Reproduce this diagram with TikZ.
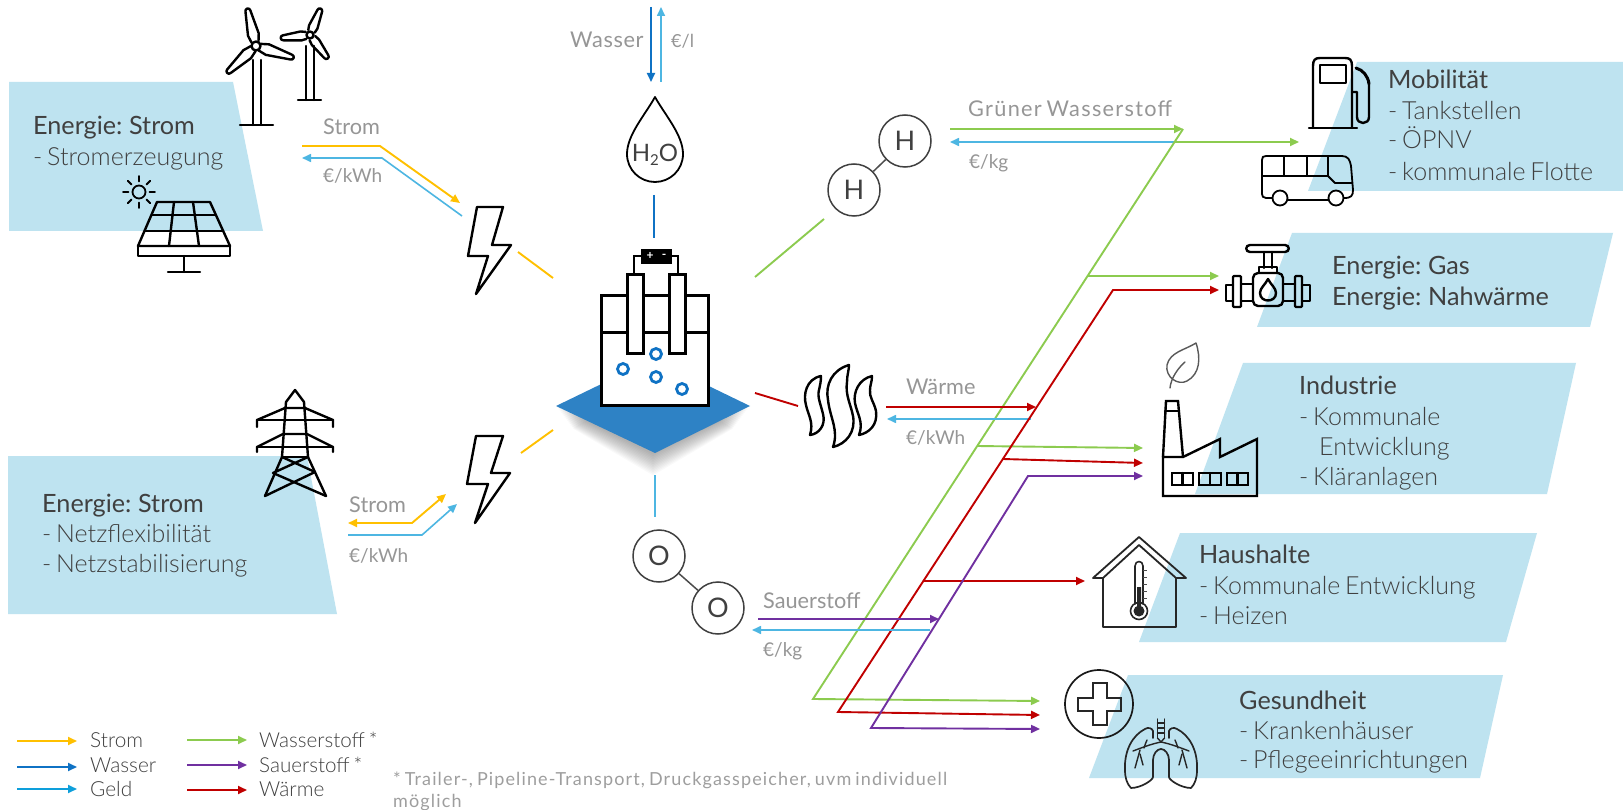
\documentclass[tikz,border=0pt]{standalone}
\usepackage{fontspec}
\setmainfont[WordSpace=0.7]{Lato}
\newfontfamily\lightf[WordSpace=0.7]{Lato Light}
\usetikzlibrary{arrows.meta,calc}
\definecolor{panelc}{HTML}{BEE3F0}
\definecolor{cstrom}{HTML}{FFC000}
\definecolor{cwasser}{HTML}{0F72C4}
\definecolor{cgeld}{HTML}{4DB6E2}
\definecolor{cgeldb}{HTML}{0E9FDB}
\definecolor{cgruen}{HTML}{8CCB4F}
\definecolor{clila}{HTML}{7030A0}
\definecolor{crot}{HTML}{C00000}
\definecolor{ctank}{HTML}{2E82C5}
\definecolor{tdark}{HTML}{404040}
\definecolor{tbody}{HTML}{404040}
\definecolor{tlab}{HTML}{969696}
\newcommand{\tblade}[4]{\draw[icon,shift={(#1)},rotate=#2] (4,-3.5) -- ({#3*0.3},-#4) -- (#3-3,-2.5) arc[start angle=90,end angle=-90,radius=2.5pt] -- ({#3*0.3},#4) -- (4,3.5);}
\tikzset{
  >={Triangle[length=9pt,width=8pt]},
  flow/.style={line width=1.9pt,line join=miter},
  panel/.style={fill=panelc,draw=none},
  icon/.style={draw=black,line width=2.4pt,line join=round,line cap=round},
  thinicon/.style={draw=black!85,line width=1.5pt,line join=round,line cap=round},
  head/.style={anchor=base west,inner sep=0pt,font=\fontsize{25.2}{28}\selectfont,text=tdark},
  body/.style={anchor=base west,inner sep=0pt,font=\lightf\fontsize{25}{28}\selectfont,text=tbody},
  lab/.style={anchor=base west,inner sep=0pt,font=\fontsize{21.7}{24}\selectfont,text=tlab},
  labe/.style={anchor=base west,inner sep=0pt,font=\fontsize{19}{24}\selectfont,text=tlab},
  leg/.style={anchor=base west,inner sep=0pt,font=\lightf\fontsize{20.8}{24}\selectfont,text=tbody},
  legs/.style={anchor=base west,inner sep=0pt,font=\lightf\fontsize{20.6}{24}\selectfont,text=tbody},
  foot/.style={anchor=base west,inner sep=0pt,font=\addfontfeatures{LetterSpace=6.3}\fontsize{18}{20}\selectfont,text=black!38},
  atom/.style={circle,draw=black!75,line width=1.5pt,minimum size=52pt,inner sep=0pt,fill=white,font=\fontsize{27}{30}\selectfont,text=black!75},
}
\begin{document}
\begin{tikzpicture}[x=1pt,y=-1pt]
\useasboundingbox (0,0) rectangle (1623,810);
\fill[white] (0,0) rectangle (1623,810);
% panels
\fill[panel] (9,82) -- (233,82) -- (263,231) -- (9,231) -- cycle;
\fill[panel] (8,456) -- (307,456) -- (337,614) -- (8,614) -- cycle;
\fill[panel] (1357,62) -- (1623,62) -- (1623,191) -- (1308,191) -- cycle;
\fill[panel] (1292,233) -- (1613,233) -- (1590,327) -- (1257,327) -- cycle;
\fill[panel] (1243,363) -- (1576,363) -- (1547,494) -- (1195,494) -- cycle;
\fill[panel] (1180,533) -- (1537,533) -- (1506,642) -- (1139,642) -- cycle;
\fill[panel] (1128,675) -- (1503,675) -- (1480,778) -- (1089,778) -- cycle;
% panel text
\node[head] (t1a) at (33,135) {Energie: Strom};
\node[body] (t1b) at (33,166) {- Stromerzeugung};
\node[head] (t2a) at (42,512) {Energie: Strom};
\node[body] (t2b) at (42,542) {- Netzflexibilität};
\node[body] (t2c) at (42,572) {- Netzstabilisierung};
\node[head] (t3a) at (1388,89) {Mobilität};
\node[body] (t3b) at (1388,120) {- Tankstellen};
\node[body] (t3c) at (1388,149) {- ÖPNV};
\node[body] (t3d) at (1388,181) {- kommunale Flotte};
\node[head] (t4a) at (1332,275) {Energie: Gas};
\node[head] (t4b) at (1332,306) {Energie: Nahwärme};
\node[head] (t5a) at (1299,394) {Industrie};
\node[body] (t5b) at (1299,425) {- Kommunale};
\node[body] (t5c) at (1319,455) {Entwicklung};
\node[body] (t5d) at (1299,485) {- Kläranlagen};
\node[head] (t6a) at (1199,563) {Haushalte};
\node[body] (t6b) at (1199,594) {- Kommunale Entwicklung};
\node[body] (t6c) at (1199,624) {- Heizen};
\node[head] (t7a) at (1239,709) {Gesundheit};
\node[body] (t7b) at (1239,739) {- Krankenhäuser};
\node[body] (t7c) at (1239,768) {- Pflegeeinrichtungen};
% wind turbines
\tblade{256,46}{103}{39}{5.5}
\tblade{256,46}{-17.5}{40}{5.5}
\tblade{256,46}{223}{40}{5.5}
\draw[icon,fill=white] (256,46) circle[radius=4.5pt];
\draw[icon] (253,60) -- (253,125) (261,60) -- (261,125) (240,125) -- (273,125);
\tblade{310,35}{68}{29}{4.5}
\tblade{310,35}{186}{30}{4.5}
\tblade{310,35}{-53}{30}{4.5}
\draw[icon,fill=white] (310,35) circle[radius=3.5pt];
\draw[icon] (306,46) -- (306,100) (314,46) -- (314,100) (298,100) -- (321,100);
% sun
\draw[icon,line width=1.8pt] (139,192) circle[radius=6.5pt];
\foreach \a in {0,45,...,315}{\draw[icon,line width=1.8pt] ($(139,192)+(\a:10.5pt)$) -- ($(139,192)+(\a:16pt)$);}
% solar panel
\draw[icon] (157,202) -- (210,202) -- (230,246) -- (138,246) -- cycle;
\draw[icon] (138,246) rectangle (230,256);
\draw[icon] (152,215) -- (215,215) (145,231) -- (223,231);
\draw[icon] (174,202) -- (169,246) (193,202) -- (199,246);
\draw[icon] (184,256) -- (184,272) (168,272) -- (200,272);
% pylon
\draw[icon] (265,496) -- (282,457) -- (286,402) -- (295,390) -- (304,402) -- (308,457) -- (326,496);
\draw[icon] (257,427) -- (257,420) -- (285,408) -- (305,408) -- (333,420) -- (333,427);
\draw[icon] (257,420) -- (333,420);
\draw[icon] (257,452) -- (257,447) -- (283,434) -- (307,434) -- (333,447) -- (333,452);
\draw[icon] (257,447) -- (333,447);
\draw[icon] (282,457) -- (308,457);
\draw[icon] (282,457) -- (315,472) -- (265,496);
\draw[icon] (308,457) -- (273,473) -- (326,496);
% lightning bolts
\draw[icon] (477,207) -- (503,207) -- (492,245) -- (511,245) -- (476,294) -- (488,256) -- (468,256) -- cycle;
\draw[icon] (476,436) -- (503,436) -- (491,473) -- (510,473) -- (475,523) -- (488,484) -- (467,484) -- cycle;
% electrolyser shadow and base
\foreach \i in {1,...,14}{\fill[black,opacity=0.025] ({556+1.2*\i},{406+1.6*\i}) -- (653,{358+1.6*\i}) -- ({750-1.2*\i},{406+1.6*\i}) -- (653,{453+1.6*\i}) -- cycle;}
\fill[ctank] (556,406) -- (653,359) -- (750,406) -- (655,453) -- cycle;
\draw[icon,line width=3pt,line cap=butt,line join=miter,fill=white] (601,296) rectangle (708,405);
\draw[icon,line width=3pt,line cap=butt] (601,333) -- (708,333);
\draw[icon,line width=2.6pt,line cap=butt,line join=miter] (634,275) -- (634,256) -- (641,256) (678,275) -- (678,256) -- (672,256);
\draw[icon,line width=3pt,line cap=butt,line join=miter,fill=white] (627,275) rectangle (643,354);
\draw[icon,line width=3pt,line cap=butt,line join=miter,fill=white] (669,275) rectangle (685,354);
\fill[black] (641,249) rectangle (672,264);
\node[inner sep=0pt,text=white,font=\bfseries\fontsize{12}{12}\selectfont] (bp) at (650,256) {+};
\node[inner sep=0pt,text=white,font=\bfseries\fontsize{12}{12}\selectfont] (bm) at (664,256) {-};
\foreach \p in {{656,354},{623,369},{656,377},{682,389}}{\draw[draw=cwasser,line width=2.8pt,fill=white] (\p) circle[radius=5.5pt];}
% drop
\draw[icon,line width=1.8pt] (655,97) .. controls (645,115) and (627,135) .. (627,154) .. controls (627,170) and (640,182) .. (655,182) .. controls (670,182) and (683,170) .. (683,154) .. controls (683,135) and (665,115) .. cycle;
\node[inner sep=0pt,text=black!75,font=\fontsize{24}{26}\selectfont] (h2o) at (655,155) {H\raisebox{-4pt}{\fontsize{15}{15}\selectfont 2}O};
% atoms
\node[atom] (h1) at (854,190) {H};
\node[atom] (h2) at (905,141) {H};
\draw[black!70,line width=1.5pt] (h1) -- (h2);
\node[atom] (o1) at (659,556) {O};
\node[atom] (o2) at (718,608) {O};
\draw[black!70,line width=1.5pt] (o1) -- (o2);
% heat
\draw[icon,line width=2.4pt] (821,376) .. controls (806,379) and (803,395) .. (806,405) .. controls (808,415) and (814,422) .. (810,435) .. controls (819,434) and (826,425) .. (823,414) .. controls (821,405) and (817,397) .. (819,390) .. controls (820,385) and (821,382) .. (821,376) -- cycle;
\draw[icon,line width=2.4pt] (849,365) .. controls (832,370) and (825,385) .. (828,400) .. controls (830,418) and (839,430) .. (833,447) .. controls (846,444) and (856,432) .. (853,416) .. controls (851,405) and (845,395) .. (847,382) .. controls (847,375) and (849,370) .. (849,365) -- cycle;
\draw[icon,line width=2.4pt] (872,376) .. controls (859,379) and (853,392) .. (855,403) .. controls (857,414) and (864,422) .. (859,435) .. controls (869,433) and (878,425) .. (876,411) .. controls (874,402) and (869,397) .. (870,390) .. controls (870,385) and (872,382) .. (872,376) -- cycle;
% named connector ends
\coordinate (sA1) at (302,146); \coordinate (sA2) at (380,146); \coordinate (sA3) at (460,203);
\coordinate (gA1) at (462,216); \coordinate (gA2) at (382,158); \coordinate (gA3) at (302,158);
\coordinate (sB1) at (348,523); \coordinate (sB2) at (412,523); \coordinate (sB3) at (446,494);
\coordinate (gB1) at (348,535); \coordinate (gB2) at (422,535); \coordinate (gB3) at (457,504);
\coordinate (cS1a) at (518,252); \coordinate (cS1b) at (553,278);
\coordinate (cS2a) at (521,453); \coordinate (cS2b) at (553,430);
\coordinate (wA) at (651,7); \coordinate (wB) at (651,82);
\coordinate (gWa) at (661,82); \coordinate (gWb) at (661,7);
\coordinate (cWa) at (654,195); \coordinate (cWb) at (654,238);
\coordinate (cHa) at (755,277); \coordinate (cHb) at (824,219);
\coordinate (cTa) at (755,393); \coordinate (cTb) at (798,406);
\coordinate (cOa) at (655,475); \coordinate (cOb) at (655,517);
% yellow/blue flows
\draw[flow,cstrom,->] (sA1) -- (sA2) -- (sA3);
\draw[flow,cgeld,line width=1.6pt,->] (gA1) -- (gA2) -- (gA3);
\draw[flow,cstrom,<->] (sB1) -- (sB2) -- (sB3);
\draw[flow,cgeld,line width=1.6pt,->] (gB1) -- (gB2) -- (gB3);
\draw[flow,cstrom] (cS1a) -- (cS1b);
\draw[flow,cstrom] (cS2a) -- (cS2b);
\draw[flow,cwasser,->] (wA) -- (wB);
\draw[flow,cgeld,line width=1.6pt,->] (gWa) -- (gWb);
\draw[flow,cwasser] (cWa) -- (cWb);
\draw[flow,cgruen] (cHa) -- (cHb);
\draw[flow,crot] (cTa) -- (cTb);
\draw[flow,cgeld] (cOa) -- (cOb);
% green network
\coordinate (gTop) at (1183,129); \coordinate (gBot) at (813,699); \coordinate (gIn) at (950,129);
\coordinate (gOutMob) at (1299,142); \coordinate (gJ1) at (1175,142);
\coordinate (gJ2) at (1088,276); \coordinate (gOutGas) at (1219,276);
\coordinate (gJ3) at (977,446); \coordinate (gOutInd) at (1143,448);
\coordinate (gOutGes) at (1040,701);
\coordinate (gH1) at (1175,142); \coordinate (gH2) at (950,142);
\draw[flow,cgruen,->] (gIn) -- (gTop);
\draw[flow,cgeld,line width=1.6pt,->] (gH1) -- (gH2);
\draw[flow,cgruen,->] (gTop) -- (gBot) -- (gOutGes);
\draw[flow,cgruen,->] (gJ1) -- (gOutMob);
\draw[flow,cgruen,->] (gJ2) -- (gOutGas);
\draw[flow,cgruen,->] (gJ3) -- (gOutInd);
% red network
\coordinate (rIn) at (886,407); \coordinate (rInE) at (1036,407);
\coordinate (rGa) at (1031,419); \coordinate (rGb) at (887,419);
\coordinate (rGas) at (1219,290); \coordinate (rTop) at (1113,290); \coordinate (rBot) at (838,712);
\coordinate (rGes) at (1040,715);
\coordinate (rJ1) at (1003,459); \coordinate (rInd) at (1143,463);
\coordinate (rJ2) at (923,581); \coordinate (rHaus) at (1085,581);
\draw[flow,crot,->] (rIn) -- (rInE);
\draw[flow,cgeld,line width=1.6pt,->] (rGa) -- (rGb);
\draw[flow,crot,<->] (rGas) -- (rTop) -- (rBot) -- (rGes);
\draw[flow,crot,->] (rJ1) -- (rInd);
\draw[flow,crot,->] (rJ2) -- (rHaus);
% purple network
\coordinate (pIn) at (758,619); \coordinate (pInE) at (939,619);
\coordinate (pGa) at (930,630); \coordinate (pGb) at (752,630);
\coordinate (pInd) at (1143,476); \coordinate (pTop) at (1028,476); \coordinate (pBot) at (871,728);
\coordinate (pGes) at (1040,729);
\draw[flow,clila,->] (pIn) -- (pInE);
\draw[flow,cgeld,line width=1.6pt,->] (pGa) -- (pGb);
\draw[flow,clila,<->] (pInd) -- (pTop) -- (pBot) -- (pGes);
% flow labels
\node[lab] (l1) at (323,135) {Strom};
\node[labe] (l2) at (323,183) {€/kWh};
\node[lab] (l3) at (349,512) {Strom};
\node[labe] (l4) at (349,562) {€/kWh};
\node[lab,font=\addfontfeatures{LetterSpace=3}\fontsize{21.7}{24}\selectfont] (l5) at (570,48) {Wasser};
\node[labe,font=\fontsize{18}{24}\selectfont] (l6) at (671,48) {€/l};
\node[lab,font=\addfontfeatures{LetterSpace=6}\fontsize{21.7}{24}\selectfont] (l7) at (968,117) {Grüner Wasserstoff};
\node[labe] (l8) at (969,169) {€/kg};
\node[lab] (l9) at (906,395) {Wärme};
\node[labe] (l10) at (906,444) {€/kWh};
\node[lab] (l11) at (763,608) {Sauerstoff};
\node[labe] (l12) at (763,656) {€/kg};
% fuel pump
\draw[icon] (1313,128) -- (1313,66) .. controls (1313,60) and (1315,58) .. (1320,58) -- (1345,58) .. controls (1350,58) and (1352,60) .. (1352,66) -- (1352,128);
\draw[icon] (1309,128) -- (1357,128);
\draw[icon] (1320,65) rectangle (1346,83);
\draw[icon] (1352,92) -- (1357,92) -- (1357,117) .. controls (1357,125) and (1369,125) .. (1369,117) -- (1369,84);
\draw[icon,line width=3pt] (1369,84) .. controls (1368,76) and (1363,70) .. (1356,68);
% bus
\draw[icon,line width=1.8pt] (1272,198) -- (1266,198) .. controls (1263,198) and (1262,196) .. (1262,194) -- (1262,160) .. controls (1262,157) and (1263,156) .. (1266,156) -- (1342,156) .. controls (1348,156) and (1350,160) .. (1351,166) -- (1353,190) .. controls (1353,196) and (1351,198) .. (1344,198);
\draw[icon,line width=1.8pt] (1288,200) -- (1328,200);
\draw[icon,line width=1.8pt] (1280,198) circle[radius=7.5pt] (1336,198) circle[radius=7.5pt];
\draw[icon,line width=1.8pt] (1262,176) -- (1328,176) -- (1335,183) -- (1352,183);
\draw[icon,line width=1.8pt] (1284,156) -- (1284,176) (1307,156) -- (1307,176) (1328,156) -- (1328,176);
% valve
\draw[icon] (1250,245) -- (1285,245) .. controls (1290,245) and (1290,252) .. (1285,252) -- (1250,252) .. controls (1245,252) and (1245,245) .. (1250,245) -- cycle;
\draw[icon] (1264,252) -- (1264,268) (1272,252) -- (1272,268);
\draw[icon] (1259,273) -- (1259,267) -- (1277,267) -- (1277,273);
\draw[icon,rounded corners=5pt] (1253,273) rectangle (1283,306);
\draw[icon,rounded corners=1pt] (1233,276) rectangle (1241,307) (1295,276) rectangle (1302,307);
\draw[icon] (1233,285) -- (1226,285) -- (1226,301) -- (1233,301) (1302,285) -- (1310,285) -- (1310,301) -- (1302,301);
\draw[icon] (1241,284) -- (1253,284) (1241,301) -- (1253,301) (1283,284) -- (1295,284) (1283,301) -- (1295,301);
\draw[icon] (1268,279) .. controls (1265,285) and (1260,288) .. (1260,293) .. controls (1260,303) and (1276,303) .. (1276,293) .. controls (1276,288) and (1271,285) .. (1268,279) -- cycle;
% leaf
\draw[draw=black!65,line width=1.4pt,line cap=round,line join=round] (1196,343) .. controls (1185,350) and (1170,352) .. (1167,365) .. controls (1165,377) and (1178,386) .. (1187,381) .. controls (1200,374) and (1201,358) .. (1196,343) -- cycle;
\draw[draw=black!65,line width=1.4pt,line cap=round] (1170,388) .. controls (1171,378) and (1178,368) .. (1185,362);
% factory
\draw[icon,line join=miter,line width=2.4pt] (1163,496) -- (1163,457) -- (1183,457) -- (1220,439) -- (1220,457) -- (1257,439) -- (1257,496) -- cycle;
\draw[icon,line join=miter,line width=2.4pt] (1163,457) -- (1166,401) -- (1178,401) -- (1183,457);
\draw[icon,line width=2.2pt] (1165,411) -- (1179,411);
\draw[icon,line width=2.2pt,line join=miter] (1172,473) rectangle (1193,485) (1182.5,473) -- (1182.5,485);
\draw[icon,line width=2.2pt,line join=miter] (1199,473) rectangle (1221,485) (1210,473) -- (1210,485);
\draw[icon,line width=2.2pt,line join=miter] (1227,473) rectangle (1248,485) (1237.5,473) -- (1237.5,485);
% house
\draw[thinicon,fill=none,line width=1.8pt] (1139,537) -- (1186,578) -- (1176,578) -- (1139,545) -- (1103,578) -- (1093,578) -- cycle;
\draw[thinicon,line width=1.8pt] (1103,578) -- (1103,627) -- (1176,627) -- (1176,578);
\draw[thinicon,line width=1.6pt] (1135,604) -- (1135,566) .. controls (1135,560) and (1143,560) .. (1143,566) -- (1143,604);
\draw[thinicon,line width=1.6pt] (1139,611) circle[radius=8.5pt];
\fill[black!85] (1139,611) circle[radius=5.5pt] (1137,587) rectangle (1141,610);
\draw[black!70,line width=1pt] (1143,570) -- (1147,570) (1143,577) -- (1147,577) (1143,584) -- (1147,584) (1143,591) -- (1147,591) (1143,598) -- (1147,598);
% medical
\draw[black!90,line width=1.7pt] (1099,704) circle[radius=34pt];
\draw[black!85,line width=1.7pt,line join=miter] (1093,683) -- (1107,683) -- (1107,698) -- (1121,698) -- (1121,711) -- (1107,711) -- (1107,725) -- (1093,725) -- (1093,711) -- (1078,711) -- (1078,698) -- (1093,698) -- cycle;
% lungs
\draw[thinicon,line width=1.4pt] (1157.5,719) -- (1157.5,738) (1164.5,719) -- (1164.5,738) (1157.5,723) -- (1164.5,723) (1157.5,728) -- (1164.5,728) (1157.5,733) -- (1164.5,733);
\foreach \s in {1,-1}{
\begin{scope}[shift={(1161,0)},xscale=\s]
\draw[thinicon,line width=1.7pt] (-8,738) -- (-8,731) .. controls (-9,728) and (-13,727) .. (-16,729) .. controls (-28,735) and (-37,750) .. (-36,770) .. controls (-36,778) and (-34,784) .. (-30,788) .. controls (-20,788) and (-8,780) .. (-8,777) -- (-8,760) .. controls (-8,754) and (-4,749) .. (0,749);
\draw[thinicon,line width=1.4pt] (-3.5,738) -- (0,742);
\draw[thinicon,line width=1.4pt] (0,742) .. controls (-10,744) and (-20,748) .. (-28,751);
\draw[thinicon,line width=1.4pt] (-17,748) .. controls (-16,745) and (-15,742) .. (-14,740);
\draw[thinicon,line width=1.4pt] (-21,750) -- (-26,768);
\draw[thinicon,line width=1.4pt] (-21,754) -- (-18,765);
\end{scope}}
% legend
\coordinate (a1) at (17,741); \coordinate (a2) at (77,741);
\coordinate (b1) at (17,767); \coordinate (b2) at (77,767);
\coordinate (c1) at (17,789); \coordinate (c2) at (77,789);
\coordinate (d1) at (187,740); \coordinate (d2) at (247,740);
\coordinate (e1) at (187,765); \coordinate (e2) at (247,765);
\coordinate (f1) at (187,790); \coordinate (f2) at (247,790);
\draw[flow,cstrom,->] (a1) -- (a2);
\draw[flow,cwasser,->] (b1) -- (b2);
\draw[flow,cgeldb,->] (c1) -- (c2);
\draw[flow,cgruen,->] (d1) -- (d2);
\draw[flow,clila,->] (e1) -- (e2);
\draw[flow,crot,->] (f1) -- (f2);
\node[leg] (la) at (90,747) {Strom};
\node[leg] (lb) at (90,772) {Wasser};
\node[leg] (lc) at (90,796) {Geld};
\node[legs] (ld) at (259,747) {Wasserstoff *};
\node[legs] (le) at (259,772) {Sauerstoff *};
\node[leg] (lf) at (259,796) {Wärme};
\node[foot] (n1) at (393,785) {* Trailer-, Pipeline-Transport, Druckgasspeicher, uvm individuell};
\node[foot] (n2) at (393,807) {möglich};
\end{tikzpicture}
\end{document}
